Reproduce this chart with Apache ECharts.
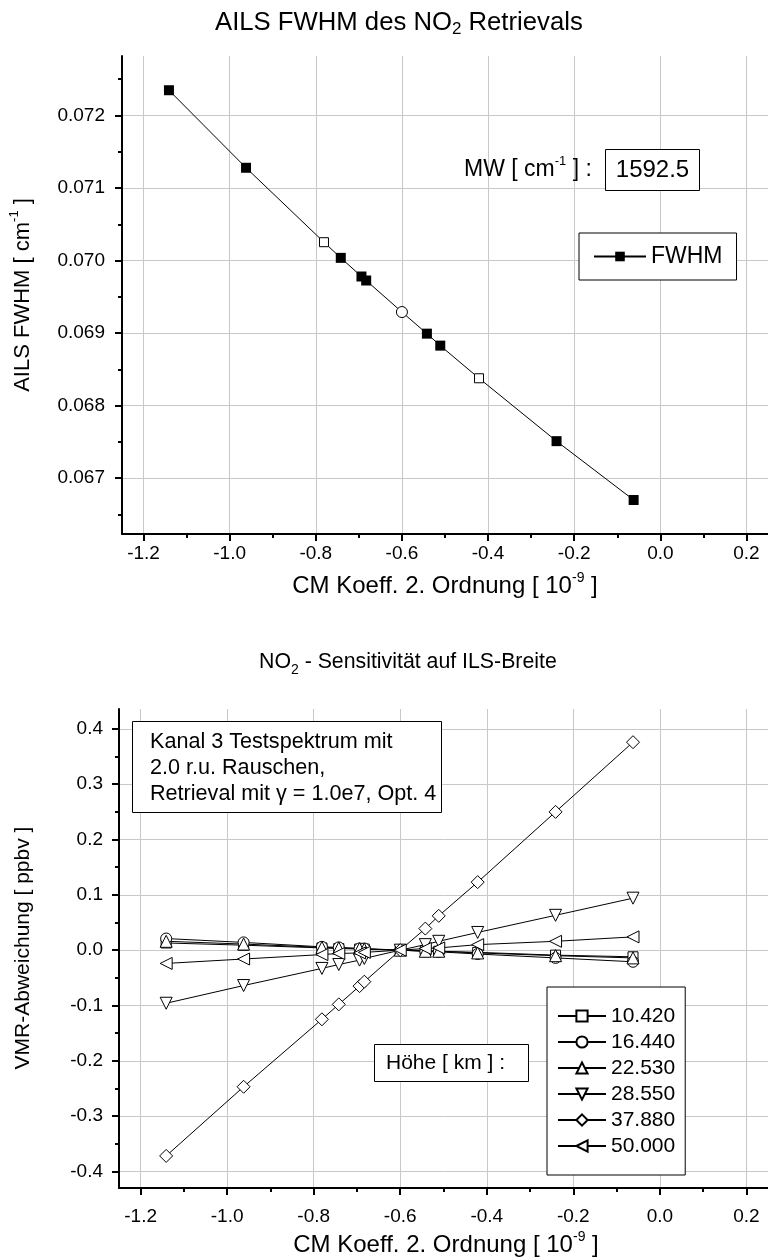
<!DOCTYPE html>
<html>
<head>
<meta charset="utf-8">
<title>AILS FWHM / NO2 Sensitivität</title>
<script src="https://cdn.jsdelivr.net/npm/echarts@6/dist/echarts.min.js"></script>
<style>
  html, body { margin: 0; padding: 0; background: #ffffff; }
  #chart { width: 768px; height: 1260px; }
</style>
</head>
<body>
<div id="chart"></div>
<script>
// CM coefficient (2nd order) of each retrieval, in 1e-9
const cmKoeff = [-1.141, -0.962, -0.781, -0.742, -0.694, -0.683, -0.600, -0.542, -0.511, -0.421, -0.241, -0.062];

// AILS FWHM [cm^-1] for each retrieval
const fwhm = [0.072348, 0.071279, 0.070253, 0.070037, 0.069780, 0.069725, 0.069290, 0.068992, 0.068827, 0.068377, 0.067510, 0.066699];

// VMR deviation [ppbv] per altitude level
const hoehen = ['10.420', '16.440', '22.530', '28.550', '37.880', '50.000'];
const dev10420 = [0.013, 0.009, 0.004, 0.003, 0.002, 0.002, 0.000, -0.001, -0.002, -0.004, -0.009, -0.012];
const dev16440 = [0.021, 0.014, 0.006, 0.005, 0.003, 0.003, 0.000, -0.002, -0.003, -0.007, -0.014, -0.021];
const dev22530 = [0.016, 0.011, 0.005, 0.004, 0.003, 0.002, 0.000, -0.002, -0.002, -0.005, -0.010, -0.014];
const dev28550 = [-0.096, -0.064, -0.033, -0.026, -0.018, -0.015, 0.000, 0.010, 0.016, 0.032, 0.063, 0.094];
const dev37880 = [-0.372, -0.247, -0.125, -0.098, -0.065, -0.057, 0.000, 0.039, 0.062, 0.123, 0.250, 0.376];
const dev50000 = [-0.024, -0.016, -0.008, -0.006, -0.005, -0.004, 0.000, 0.003, 0.004, 0.010, 0.016, 0.024];

// tick labels
const xTicks = [-1.2, -1.0, -0.8, -0.6, -0.4, -0.2, 0.0, 0.2];
const fwhmTicks = [0.067, 0.068, 0.069, 0.070, 0.071, 0.072];
const vmrTicks = [-0.4, -0.3, -0.2, -0.1, 0.0, 0.1, 0.2, 0.3, 0.4];

const FONT = '"Liberation Sans", Arial, Helvetica, sans-serif';

// minor ticks halfway between the major ones
function midpoints(t, before, after) {
  const step = t[1] - t[0];
  const out = [];
  if (before) out.push(t[0] - step / 2);
  for (let i = 0; i < t.length - 1; i++) out.push((t[i] + t[i + 1]) / 2);
  if (after) out.push(t[t.length - 1] + step / 2);
  return out.map(v => +v.toFixed(6));
}
const xMinor = midpoints(xTicks, false, false);
const fwhmMinor = midpoints(fwhmTicks, true, true);
const vmrMinor = midpoints(vmrTicks, false, false);

function richSet(size) {
  return {
    a: { fontSize: size, lineHeight: 30, fontFamily: FONT, color: '#000' },
    p: { fontSize: Math.round(size * 0.58), lineHeight: 14, verticalAlign: 'top', fontFamily: FONT, color: '#000' },
    s: { fontSize: Math.round(size * 0.65), lineHeight: 7, verticalAlign: 'bottom', fontFamily: FONT, color: '#000' }
  };
}

function mainX(grid, min, max, fontSize, margin) {
  return {
    type: 'value', gridIndex: grid, min: min, max: max, position: 'bottom',
    axisLine: { show: true, onZero: false, lineStyle: { color: '#000', width: 2 } },
    axisTick: { show: true, inside: false, length: 7, customValues: xTicks, lineStyle: { color: '#000', width: 2 } },
    axisLabel: { show: true, customValues: xTicks, margin: margin, color: '#000', fontFamily: FONT, fontSize: fontSize,
      formatter: v => v.toFixed(1) },
    splitLine: { show: true, lineStyle: { color: '#c8c8c8', width: 1 } }
  };
}
function minorX(grid, min, max) {
  return {
    type: 'value', gridIndex: grid, min: min, max: max, position: 'bottom',
    axisLine: { show: false, onZero: false },
    axisTick: { show: true, inside: false, length: 4, customValues: xMinor, lineStyle: { color: '#000', width: 2 } },
    axisLabel: { show: false },
    splitLine: { show: false }
  };
}
function mainY(grid, min, max, ticks, digits, fontSize, margin) {
  return {
    type: 'value', gridIndex: grid, min: min, max: max, position: 'left',
    axisLine: { show: true, onZero: false, lineStyle: { color: '#000', width: 2 } },
    axisTick: { show: true, inside: false, length: 7, customValues: ticks, lineStyle: { color: '#000', width: 2 } },
    axisLabel: { show: true, customValues: ticks, margin: margin, color: '#000', fontFamily: FONT, fontSize: fontSize,
      formatter: v => v.toFixed(digits) },
    splitLine: { show: true, lineStyle: { color: '#c8c8c8', width: 1 } }
  };
}
function minorY(grid, min, max, ticks) {
  return {
    type: 'value', gridIndex: grid, min: min, max: max, position: 'left',
    axisLine: { show: false, onZero: false },
    axisTick: { show: true, inside: false, length: 4, customValues: ticks, lineStyle: { color: '#000', width: 2 } },
    axisLabel: { show: false },
    splitLine: { show: false }
  };
}

// FWHM points: a few retrievals are drawn with open markers
const openSquareIdx = [2, 9];
const openCircleIdx = [6];
const fwhmData = cmKoeff.map((x, i) => {
  const item = { value: [x, fwhm[i]] };
  if (openSquareIdx.includes(i)) {
    item.symbolSize = 9;
    item.itemStyle = { color: '#fff', borderColor: '#000', borderWidth: 1 };
  } else if (openCircleIdx.includes(i)) {
    item.symbol = 'circle';
    item.symbolSize = 11;
    item.itemStyle = { color: '#fff', borderColor: '#000', borderWidth: 1 };
  }
  return item;
});

const devSeries = [dev10420, dev16440, dev22530, dev28550, dev37880, dev50000];
const devSymbols = [
  { symbol: 'rect', size: 10, rotate: 0 },
  { symbol: 'circle', size: 11, rotate: 0 },
  { symbol: 'triangle', size: 12, rotate: 0 },
  { symbol: 'triangle', size: 12, rotate: 180 },
  { symbol: 'diamond', size: 13, rotate: 0 },
  { symbol: 'triangle', size: 12, rotate: 90 }
];

const series = [{
  name: 'FWHM', type: 'line', xAxisIndex: 0, yAxisIndex: 0,
  data: fwhmData, symbol: 'rect', symbolSize: 10,
  lineStyle: { color: '#000', width: 1 },
  itemStyle: { color: '#000', borderColor: '#000', borderWidth: 0 },
  emphasis: { disabled: true }, z: 3
}];
hoehen.forEach((h, k) => {
  series.push({
    name: h, type: 'line', xAxisIndex: 2, yAxisIndex: 2,
    data: cmKoeff.map((x, i) => [x, devSeries[k][i]]),
    symbol: devSymbols[k].symbol, symbolSize: devSymbols[k].size, symbolRotate: devSymbols[k].rotate,
    lineStyle: { color: '#000', width: 1 },
    itemStyle: { color: '#fff', borderColor: '#000', borderWidth: 1 },
    emphasis: { disabled: true }, z: 3
  });
});

const option = {
  animation: false,
  backgroundColor: '#fff',
  grid: [
    { left: 122, top: 56, width: 650, height: 478 },
    { left: 119, top: 709, width: 656, height: 479 }
  ],
  xAxis: [
    mainX(0, -1.25, 0.25, 19, 10),
    minorX(0, -1.25, 0.25),
    mainX(1, -1.25, 0.25, 19, 19),
    minorX(1, -1.25, 0.25)
  ],
  yAxis: [
    mainY(0, 0.06623, 0.07282, fwhmTicks, 3, 19, 17),
    minorY(0, 0.06623, 0.07282, fwhmMinor),
    mainY(1, -0.43, 0.436, vmrTicks, 1, 19, 16),
    minorY(1, -0.43, 0.436, vmrMinor)
  ],
  legend: [
    {
      data: ['FWHM'], left: 579, top: 233, orient: 'vertical',
      padding: [12, 14, 12, 14], itemWidth: 52, itemHeight: 12,
      backgroundColor: '#fff', borderColor: '#000', borderWidth: 1, borderRadius: 0,
      textStyle: { fontSize: 23, lineHeight: 23, fontFamily: FONT, color: '#000' },
      selectedMode: false, z: 10
    },
    {
      data: hoehen, left: 547, top: 987, orient: 'vertical',
      padding: [18, 10, 18, 10], itemWidth: 48, itemHeight: 14, itemGap: 4,
      backgroundColor: '#fff', borderColor: '#000', borderWidth: 1, borderRadius: 0,
      textStyle: { fontSize: 21, lineHeight: 22, fontFamily: FONT, color: '#000' },
      selectedMode: false, z: 10
    }
  ],
  graphic: [
    // chart titles
    { type: 'text', x: 215, y: 22.6, z: 20, style: { text: '{a|AILS FWHM des NO}{s|2}{a| Retrievals}', align: 'left', verticalAlign: 'middle', rich: richSet(25.7) } },
    { type: 'text', x: 259, y: 662, z: 20, style: { text: '{a|NO}{s|2}{a| - Sensitivität auf ILS-Breite}', align: 'left', verticalAlign: 'middle', rich: richSet(21.3) } },
    // axis titles
    { type: 'text', x: 445, y: 586, z: 20, style: { text: '{a|CM Koeff. 2. Ordnung [ 10}{p|-9}{a| ]}', align: 'center', verticalAlign: 'middle', rich: richSet(24) } },
    { type: 'text', x: 446, y: 1245, z: 20, style: { text: '{a|CM Koeff. 2. Ordnung [ 10}{p|-9}{a| ]}', align: 'center', verticalAlign: 'middle', rich: richSet(24) } },
    { type: 'text', x: 23, y: 295, rotation: Math.PI / 2, z: 20, style: { text: '{a|AILS FWHM [ cm}{p|-1}{a| ]}', align: 'center', verticalAlign: 'middle', rich: richSet(22) } },
    { type: 'text', x: 23, y: 948, rotation: Math.PI / 2, z: 20, style: { text: '{a|VMR-Abweichung [ ppbv ]}', align: 'center', verticalAlign: 'middle', rich: richSet(21) } },
    // microwindow annotation
    { type: 'text', x: 464, y: 169.5, z: 20, style: { text: '{a|MW [ cm}{p|-1}{a| ] :}', align: 'left', verticalAlign: 'middle', rich: richSet(23) } },
    { type: 'rect', z: 19, shape: { x: 605.5, y: 149.5, width: 94, height: 41 }, style: { fill: '#fff', stroke: '#000', lineWidth: 1 } },
    { type: 'text', x: 652.5, y: 170, z: 20, style: { text: '1592.5', align: 'center', verticalAlign: 'middle', font: '24px ' + FONT, fill: '#000' } },
    // retrieval setup note
    { type: 'rect', z: 19, shape: { x: 132.5, y: 721.5, width: 309, height: 91 }, style: { fill: '#fff', stroke: '#000', lineWidth: 1 } },
    { type: 'text', x: 150, y: 729, z: 20, style: {
        text: 'Kanal 3 Testspektrum mit\n2.0 r.u. Rauschen,\nRetrieval mit γ = 1.0e7, Opt. 4',
        align: 'left', verticalAlign: 'top', font: '21.6px ' + FONT, lineHeight: 26, fill: '#000' } },
    // legend caption
    { type: 'rect', z: 19, shape: { x: 374.5, y: 1044.5, width: 154, height: 37 }, style: { fill: '#fff', stroke: '#000', lineWidth: 1 } },
    { type: 'text', x: 386, y: 1063.5, z: 20, style: { text: 'Höhe [ km ] :', align: 'left', verticalAlign: 'middle', font: '21px ' + FONT, fill: '#000' } }
  ],
  series: series
};

const chart = echarts.init(document.getElementById('chart'), null, { renderer: 'canvas' });
chart.setOption(option);
</script>
</body>
</html>
